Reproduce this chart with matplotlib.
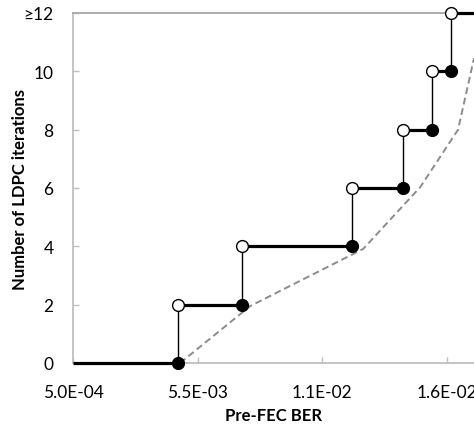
import matplotlib
matplotlib.use("Agg")
import matplotlib.pyplot as plt

plt.rcParams['font.family'] = ['Lato', 'DejaVu Sans']

# step thresholds (BER where iteration count jumps) and levels
ber_steps = [0.00473, 0.0073, 0.01169, 0.01374, 0.01491, 0.01567]
iter_levels = [0, 2, 4, 6, 8, 10, 12]

# dashed reference curve
ref_ber = [0.00480, 0.00761, 0.01215, 0.01444, 0.01596, 0.01660]
ref_iter = [0, 1.95, 3.91, 6.03, 8.0, 10.45]

xticks = [0.0005, 0.0055, 0.0105, 0.0155]
xticklabels = ['5.0E-04', '5.5E-03', '1.1E-02', '1.6E-02']
yticks = [0, 2, 4, 6, 8, 10, 12]
yticklabels = ['0', '2', '4', '6', '8', '10', '≥12']

xmin, xmax = 0.0005, 0.0166

fig = plt.figure(figsize=(4.74, 4.27), dpi=100)
ax = fig.add_axes([73/474, 63/427, 401/474, 350/427])

# dashed curve
ax.plot(ref_ber, ref_iter, color='#8c8c8c', lw=1.4, ls=(0, (3.5, 2)), zorder=2)

# horizontal thick segments
starts = [xmin] + ber_steps
ends = ber_steps + [xmax]
for s, e, lvl in zip(starts, ends, iter_levels):
    ax.plot([s, e], [lvl, lvl], color='black', lw=2.3, solid_capstyle='butt',
            clip_on=False, zorder=3)

# vertical thin segments
for i, b in enumerate(ber_steps):
    ax.plot([b, b], [iter_levels[i], iter_levels[i+1]], color='black', lw=1.0,
            zorder=3)

# filled (lower) and open (upper) markers
ax.plot(ber_steps, iter_levels[:-1], 'o', ms=8.5, mfc='black', mec='black',
        mew=1, clip_on=False, zorder=4)
ax.plot(ber_steps, iter_levels[1:], 'o', ms=8.5, mfc='white', mec='black',
        mew=1, clip_on=False, zorder=4)

ax.set_xlim(xmin, xmax)
ax.set_ylim(0, 12)
ax.set_xticks(xticks)
ax.set_xticklabels(xticklabels)
ax.set_yticks(yticks)
ax.set_yticklabels(yticklabels)

for sp in ['left', 'bottom', 'top']:
    ax.spines[sp].set_color('#bfbfbf')
    ax.spines[sp].set_linewidth(1.3)
ax.spines['top'].set_color('#a6a6a6')
ax.spines['right'].set_visible(False)
ax.tick_params(direction='in', length=4, width=1, color='#bfbfbf',
               labelsize=12.5)
ax.tick_params(axis='y', pad=14)
ax.tick_params(axis='x', pad=15)

ax.set_xlabel('Pre-FEC BER', fontsize=12, fontweight='bold', labelpad=5)
ax.set_ylabel('Number of LDPC iterations', fontsize=12, fontweight='bold',
              labelpad=-3)

fig.savefig('out.png', dpi=100)
